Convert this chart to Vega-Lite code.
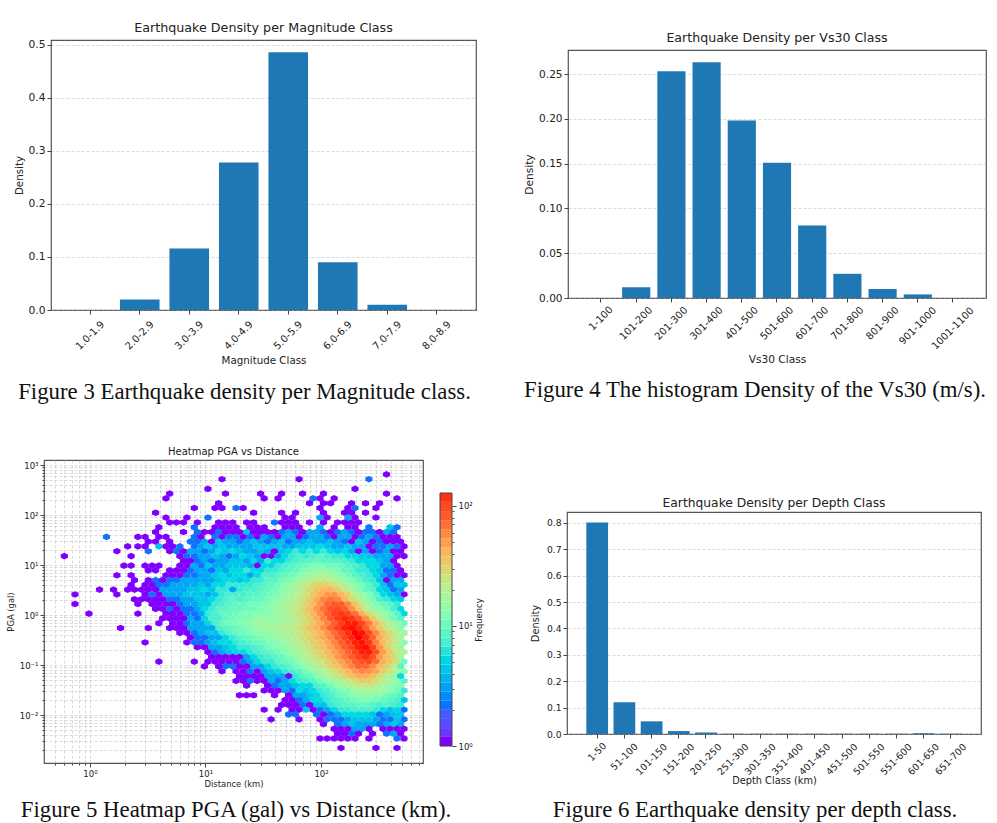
{
"$schema":"https://vega.github.io/schema/vega-lite/v6.json",
"background":"white",
"padding":{"left":5,"top":21,"right":0,"bottom":0},
"config":{"view":{"stroke":null},"font":"DejaVu Sans","axis":{"labelFont":"DejaVu Sans","titleFont":"DejaVu Sans","labelColor":"#222","titleColor":"#222","titleFontWeight":"normal","titleBaseline":"middle","tickColor":"#444","domain":false,"zindex":1,"labelOverlap":false,"labelFlush":false,"gridColor":"#b0b0b0","gridOpacity":0.6,"gridDash":[3,2],"gridWidth":0.8},"title":{"font":"DejaVu Sans","fontWeight":"normal","color":"#222","baseline":"middle"}},
"spacing":40,
"hconcat":[
{"spacing":0,"vconcat":[
 {"bounds":"flush","spacing":0,"hconcat":[
  {"width":7,"height":1,"data":{"values":[]},"mark":"point","encoding":{}},
  {"width":425,"height":270,"view":{"stroke":"#555","strokeWidth":1.2},
   "title":{"text":"Earthquake Density per Magnitude Class","fontSize":12.7,"offset":4},
   "data":{"values":[{"c":"1.0-1.9","v":0},{"c":"2.0-2.9","v":0.02},{"c":"3.0-3.9","v":0.116},{"c":"4.0-4.9","v":0.278},{"c":"5.0-5.9","v":0.486},{"c":"6.0-6.9","v":0.09},{"c":"7.0-7.9","v":0.01},{"c":"8.0-8.9","v":0}]},
   "mark":{"type":"bar","color":"#1f77b4"},
   "encoding":{
    "x":{"field":"c","type":"nominal","sort":null,"scale":{"paddingInner":0.2,"paddingOuter":0.393},"axis":{"title":"Magnitude Class","titleFontSize":10.3,"titleY":50,"labelAngle":-45,"labelAlign":"center","labelBaseline":"middle","labelFontSize":10,"labelPadding":{"expr":"3.5+2.5*length(datum.label)"},"tickSize":4}},
    "y":{"field":"v","type":"quantitative","scale":{"domain":[0,0.509],"nice":false},"axis":{"title":"Density","titleFontSize":10.3,"titleX":-32,"values":[0,0.1,0.2,0.3,0.4,0.5],"format":".1f","labelFontSize":10.7,"tickSize":4,"grid":true}}}}
 ]},
 {"width":401,"height":80,"data":{"values":[{"caption":"Figure 3 Earthquake density per Magnitude class."}]},"mark":{"type":"text","font":"Liberation Serif","fontSize":22.8,"color":"#111","dy":-14.5},"encoding":{"text":{"field":"caption"}}},
 {"bounds":"flush","spacing":0,"hconcat":[
  {"width":379,"height":303,"view":{"stroke":"#555","strokeWidth":1.2},
   "title":{"text":"Heatmap PGA vs Distance","fontSize":10,"offset":3},
   "data":{"values":[
{"d":369,"p":649,"f":1},
{"d":64.6,"p":520,"f":1},{"d":260,"p":520,"f":2},{"d":13.9,"p":520,"f":1},
{"d":10.5,"p":334,"f":1},{"d":197,"p":334,"f":1},
{"d":4.9,"p":268,"f":1},{"d":14.9,"p":268,"f":1},{"d":30,"p":268,"f":1},{"d":45.6,"p":268,"f":1},{"d":69.2,"p":268,"f":1},{"d":105,"p":268,"f":1},{"d":369,"p":268,"f":1},
{"d":4.55,"p":215,"f":1},{"d":32.2,"p":215,"f":1},{"d":42.5,"p":215,"f":1},{"d":85.3,"p":215,"f":2},{"d":98,"p":215,"f":1},{"d":130,"p":215,"f":1},{"d":455,"p":215,"f":1},
{"d":13,"p":172,"f":1},{"d":79.6,"p":172,"f":1},{"d":105,"p":172,"f":1},{"d":121,"p":172,"f":1},{"d":184,"p":172,"f":1},{"d":243,"p":172,"f":1},{"d":321,"p":172,"f":1},
{"d":8,"p":138,"f":1},{"d":12.1,"p":138,"f":1},{"d":13.9,"p":138,"f":1},{"d":18.4,"p":138,"f":2},{"d":21.2,"p":138,"f":1},{"d":98,"p":138,"f":1},{"d":171,"p":138,"f":1},{"d":197,"p":138,"f":2},{"d":299,"p":138,"f":1},
{"d":3.7,"p":111,"f":1},{"d":26.1,"p":111,"f":1},{"d":45.6,"p":111,"f":1},{"d":60.2,"p":111,"f":1},{"d":105,"p":111,"f":1},{"d":160,"p":111,"f":1},{"d":184,"p":111,"f":1},{"d":243,"p":111,"f":1},
{"d":4.55,"p":89,"f":1},{"d":6.9,"p":89,"f":1},{"d":10.5,"p":89,"f":2},{"d":48.9,"p":89,"f":1},{"d":56.2,"p":89,"f":1},{"d":98,"p":89,"f":3},{"d":113,"p":89,"f":1},{"d":171,"p":89,"f":3},{"d":197,"p":89,"f":1},{"d":299,"p":89,"f":1},
{"d":4.9,"p":71,"f":1},{"d":5.6,"p":71,"f":1},{"d":6.45,"p":71,"f":1},{"d":8.5,"p":71,"f":1},{"d":13,"p":71,"f":1},{"d":14.9,"p":71,"f":1},{"d":17.2,"p":71,"f":1},{"d":22.7,"p":71,"f":1},{"d":26.1,"p":71,"f":1},{"d":39.6,"p":71,"f":2},{"d":45.6,"p":71,"f":1},{"d":52.4,"p":71,"f":1},{"d":60.2,"p":71,"f":1},{"d":79.6,"p":71,"f":1},{"d":105,"p":71,"f":1},{"d":139,"p":71,"f":1},{"d":160,"p":71,"f":1},{"d":184,"p":71,"f":1},{"d":211,"p":71,"f":1},
{"d":3.95,"p":57,"f":1},{"d":8,"p":57,"f":2},{"d":12.1,"p":57,"f":1},{"d":13.9,"p":57,"f":1},{"d":16,"p":57,"f":1},{"d":18.4,"p":57,"f":1},{"d":24.3,"p":57,"f":1},{"d":28,"p":57,"f":1},{"d":32.2,"p":57,"f":1},{"d":48.9,"p":57,"f":1},{"d":56.2,"p":57,"f":1},{"d":64.6,"p":57,"f":1},{"d":98,"p":57,"f":3},{"d":130,"p":57,"f":1},{"d":171,"p":57,"f":1},{"d":197,"p":57,"f":1},{"d":260,"p":57,"f":2},{"d":396,"p":57,"f":4},{"d":455,"p":57,"f":2},
{"d":3.7,"p":45.7,"f":1},{"d":6.45,"p":45.7,"f":1},{"d":8.5,"p":45.7,"f":2},{"d":9.8,"p":45.7,"f":1},{"d":11.3,"p":45.7,"f":1},{"d":13,"p":45.7,"f":2},{"d":14.9,"p":45.7,"f":1},{"d":17.2,"p":45.7,"f":1},{"d":19.7,"p":45.7,"f":1},{"d":22.7,"p":45.7,"f":4},{"d":26.1,"p":45.7,"f":1},{"d":30,"p":45.7,"f":1},{"d":34.5,"p":45.7,"f":1},{"d":39.6,"p":45.7,"f":1},{"d":45.6,"p":45.7,"f":2},{"d":52.4,"p":45.7,"f":3},{"d":60.2,"p":45.7,"f":2},{"d":69.2,"p":45.7,"f":1},{"d":79.6,"p":45.7,"f":3},{"d":91.5,"p":45.7,"f":3},{"d":105,"p":45.7,"f":2},{"d":121,"p":45.7,"f":1},{"d":139,"p":45.7,"f":2},{"d":160,"p":45.7,"f":3},{"d":184,"p":45.7,"f":2},{"d":211,"p":45.7,"f":1},{"d":243,"p":45.7,"f":2},{"d":279,"p":45.7,"f":2},{"d":321,"p":45.7,"f":1},{"d":369,"p":45.7,"f":3},{"d":424,"p":45.7,"f":2},
{"d":1.39,"p":36.6,"f":2},{"d":2.6,"p":36.6,"f":1},{"d":3,"p":36.6,"f":1},{"d":3.95,"p":36.6,"f":1},{"d":4.55,"p":36.6,"f":1},{"d":8,"p":36.6,"f":2},{"d":9.15,"p":36.6,"f":1},{"d":12.1,"p":36.6,"f":2},{"d":13.9,"p":36.6,"f":1},{"d":16,"p":36.6,"f":2},{"d":18.4,"p":36.6,"f":2},{"d":21.2,"p":36.6,"f":1},{"d":24.3,"p":36.6,"f":2},{"d":28,"p":36.6,"f":1},{"d":32.2,"p":36.6,"f":3},{"d":37,"p":36.6,"f":2},{"d":42.5,"p":36.6,"f":1},{"d":48.9,"p":36.6,"f":3},{"d":56.2,"p":36.6,"f":3},{"d":64.6,"p":36.6,"f":1},{"d":74.2,"p":36.6,"f":2},{"d":85.3,"p":36.6,"f":3},{"d":98,"p":36.6,"f":3},{"d":113,"p":36.6,"f":2},{"d":130,"p":36.6,"f":1},{"d":149,"p":36.6,"f":3},{"d":171,"p":36.6,"f":3},{"d":197,"p":36.6,"f":1},{"d":226,"p":36.6,"f":2},{"d":260,"p":36.6,"f":3},{"d":299,"p":36.6,"f":2},{"d":344,"p":36.6,"f":1},{"d":396,"p":36.6,"f":1},{"d":455,"p":36.6,"f":1},
{"d":3.2,"p":29.4,"f":1},{"d":3.7,"p":29.4,"f":1},{"d":4.9,"p":29.4,"f":1},{"d":7.4,"p":29.4,"f":2},{"d":8.5,"p":29.4,"f":2},{"d":9.8,"p":29.4,"f":3},{"d":11.3,"p":29.4,"f":1},{"d":13,"p":29.4,"f":4},{"d":14.9,"p":29.4,"f":3},{"d":17.2,"p":29.4,"f":3},{"d":19.7,"p":29.4,"f":2},{"d":22.7,"p":29.4,"f":3},{"d":26.1,"p":29.4,"f":4},{"d":30,"p":29.4,"f":3},{"d":34.5,"p":29.4,"f":2},{"d":39.6,"p":29.4,"f":3},{"d":45.6,"p":29.4,"f":4},{"d":52.4,"p":29.4,"f":2},{"d":60.2,"p":29.4,"f":3},{"d":69.2,"p":29.4,"f":3},{"d":79.6,"p":29.4,"f":4},{"d":91.5,"p":29.4,"f":3},{"d":105,"p":29.4,"f":3},{"d":121,"p":29.4,"f":4},{"d":139,"p":29.4,"f":3},{"d":160,"p":29.4,"f":2},{"d":184,"p":29.4,"f":1},{"d":211,"p":29.4,"f":4},{"d":243,"p":29.4,"f":3},{"d":279,"p":29.4,"f":1},{"d":321,"p":29.4,"f":2},{"d":369,"p":29.4,"f":1},{"d":424,"p":29.4,"f":1},{"d":488,"p":29.4,"f":1},
{"d":2.12,"p":23.6,"f":1},{"d":2.6,"p":23.6,"f":1},{"d":3,"p":23.6,"f":1},{"d":3.95,"p":23.6,"f":4},{"d":4.55,"p":23.6,"f":1},{"d":5.2,"p":23.6,"f":1},{"d":6,"p":23.6,"f":2},{"d":8,"p":23.6,"f":2},{"d":9.15,"p":23.6,"f":3},{"d":10.5,"p":23.6,"f":4},{"d":12.1,"p":23.6,"f":3},{"d":13.9,"p":23.6,"f":4},{"d":16,"p":23.6,"f":3},{"d":18.4,"p":23.6,"f":3},{"d":21.2,"p":23.6,"f":3},{"d":24.3,"p":23.6,"f":3},{"d":28,"p":23.6,"f":4},{"d":32.2,"p":23.6,"f":4},{"d":37,"p":23.6,"f":4},{"d":42.5,"p":23.6,"f":4},{"d":48.9,"p":23.6,"f":3},{"d":56.2,"p":23.6,"f":3},{"d":64.6,"p":23.6,"f":4},{"d":74.2,"p":23.6,"f":4},{"d":85.3,"p":23.6,"f":4},{"d":98,"p":23.6,"f":5},{"d":113,"p":23.6,"f":4},{"d":130,"p":23.6,"f":3},{"d":149,"p":23.6,"f":3},{"d":171,"p":23.6,"f":4},{"d":197,"p":23.6,"f":3},{"d":226,"p":23.6,"f":3},{"d":260,"p":23.6,"f":1},{"d":299,"p":23.6,"f":2},{"d":344,"p":23.6,"f":2},{"d":396,"p":23.6,"f":3},{"d":455,"p":23.6,"f":2},{"d":523,"p":23.6,"f":1},
{"d":1.71,"p":18.9,"f":1},{"d":3.2,"p":18.9,"f":2},{"d":4.9,"p":18.9,"f":1},{"d":5.6,"p":18.9,"f":2},{"d":6.45,"p":18.9,"f":1},{"d":7.4,"p":18.9,"f":3},{"d":8.5,"p":18.9,"f":3},{"d":9.8,"p":18.9,"f":2},{"d":11.3,"p":18.9,"f":3},{"d":13,"p":18.9,"f":5},{"d":14.9,"p":18.9,"f":4},{"d":17.2,"p":18.9,"f":5},{"d":19.7,"p":18.9,"f":4},{"d":22.7,"p":18.9,"f":3},{"d":26.1,"p":18.9,"f":3},{"d":30,"p":18.9,"f":4},{"d":34.5,"p":18.9,"f":3},{"d":39.6,"p":18.9,"f":1},{"d":45.6,"p":18.9,"f":4},{"d":52.4,"p":18.9,"f":5},{"d":60.2,"p":18.9,"f":6},{"d":69.2,"p":18.9,"f":5},{"d":79.6,"p":18.9,"f":6},{"d":91.5,"p":18.9,"f":5},{"d":105,"p":18.9,"f":6},{"d":121,"p":18.9,"f":5},{"d":139,"p":18.9,"f":4},{"d":160,"p":18.9,"f":5},{"d":184,"p":18.9,"f":3},{"d":211,"p":18.9,"f":1},{"d":243,"p":18.9,"f":3},{"d":279,"p":18.9,"f":1},{"d":321,"p":18.9,"f":2},{"d":369,"p":18.9,"f":3},{"d":424,"p":18.9,"f":1},{"d":488,"p":18.9,"f":1},
{"d":0.6,"p":15.1,"f":1},{"d":2.27,"p":15.1,"f":1},{"d":6,"p":15.1,"f":1},{"d":6.9,"p":15.1,"f":2},{"d":8,"p":15.1,"f":2},{"d":9.15,"p":15.1,"f":3},{"d":10.5,"p":15.1,"f":3},{"d":12.1,"p":15.1,"f":4},{"d":13.9,"p":15.1,"f":3},{"d":16,"p":15.1,"f":2},{"d":18.4,"p":15.1,"f":3},{"d":21.2,"p":15.1,"f":5},{"d":24.3,"p":15.1,"f":4},{"d":28,"p":15.1,"f":3},{"d":32.2,"p":15.1,"f":1},{"d":37,"p":15.1,"f":1},{"d":42.5,"p":15.1,"f":3},{"d":48.9,"p":15.1,"f":5},{"d":56.2,"p":15.1,"f":6},{"d":64.6,"p":15.1,"f":7},{"d":74.2,"p":15.1,"f":6},{"d":85.3,"p":15.1,"f":7},{"d":98,"p":15.1,"f":8},{"d":113,"p":15.1,"f":7},{"d":130,"p":15.1,"f":6},{"d":149,"p":15.1,"f":6},{"d":171,"p":15.1,"f":5},{"d":197,"p":15.1,"f":5},{"d":226,"p":15.1,"f":4},{"d":260,"p":15.1,"f":4},{"d":299,"p":15.1,"f":3},{"d":344,"p":15.1,"f":3},{"d":396,"p":15.1,"f":3},{"d":455,"p":15.1,"f":1},{"d":523,"p":15.1,"f":1},
{"d":424,"p":12.1,"f":1},{"d":369,"p":12.1,"f":3},{"d":321,"p":12.1,"f":4},{"d":279,"p":12.1,"f":5},{"d":243,"p":12.1,"f":5},{"d":211,"p":12.1,"f":5},{"d":184,"p":12.1,"f":6},{"d":160,"p":12.1,"f":7},{"d":139,"p":12.1,"f":8},{"d":121,"p":12.1,"f":8},{"d":105,"p":12.1,"f":8},{"d":91.5,"p":12.1,"f":9},{"d":79.6,"p":12.1,"f":8},{"d":69.2,"p":12.1,"f":8},{"d":60.2,"p":12.1,"f":7},{"d":52.4,"p":12.1,"f":6},{"d":45.6,"p":12.1,"f":5},{"d":39.6,"p":12.1,"f":5},{"d":34.5,"p":12.1,"f":6},{"d":30,"p":12.1,"f":3},{"d":26.1,"p":12.1,"f":5},{"d":22.7,"p":12.1,"f":3},{"d":19.7,"p":12.1,"f":4},{"d":17.2,"p":12.1,"f":4},{"d":14.9,"p":12.1,"f":3},{"d":13,"p":12.1,"f":3},{"d":11.3,"p":12.1,"f":2},{"d":9.8,"p":12.1,"f":3},{"d":8.5,"p":12.1,"f":2},{"d":7.4,"p":12.1,"f":1},{"d":6.45,"p":12.1,"f":1},
{"d":455,"p":9.7,"f":1},{"d":396,"p":9.7,"f":3},{"d":344,"p":9.7,"f":3},{"d":299,"p":9.7,"f":5},{"d":260,"p":9.7,"f":5},{"d":226,"p":9.7,"f":6},{"d":197,"p":9.7,"f":7},{"d":171,"p":9.7,"f":8},{"d":149,"p":9.7,"f":9},{"d":130,"p":9.7,"f":10},{"d":113,"p":9.7,"f":10},{"d":98,"p":9.7,"f":11},{"d":85.3,"p":9.7,"f":11},{"d":74.2,"p":9.7,"f":10},{"d":64.6,"p":9.7,"f":9},{"d":56.2,"p":9.7,"f":8},{"d":48.9,"p":9.7,"f":7},{"d":42.5,"p":9.7,"f":6},{"d":37,"p":9.7,"f":5},{"d":32.2,"p":9.7,"f":5},{"d":28,"p":9.7,"f":1},{"d":24.3,"p":9.7,"f":3},{"d":21.2,"p":9.7,"f":4},{"d":18.4,"p":9.7,"f":4},{"d":16,"p":9.7,"f":4},{"d":13.9,"p":9.7,"f":3},{"d":12.1,"p":9.7,"f":3},{"d":10.5,"p":9.7,"f":4},{"d":9.15,"p":9.7,"f":2},{"d":8,"p":9.7,"f":3},{"d":6.9,"p":9.7,"f":1},{"d":6,"p":9.7,"f":1},{"d":3.95,"p":9.7,"f":1},{"d":3.45,"p":9.7,"f":1},{"d":3,"p":9.7,"f":1},{"d":2.27,"p":9.7,"f":1},{"d":1.97,"p":9.7,"f":1},
{"d":488,"p":7.8,"f":1},{"d":424,"p":7.8,"f":2},{"d":369,"p":7.8,"f":2},{"d":321,"p":7.8,"f":4},{"d":279,"p":7.8,"f":5},{"d":243,"p":7.8,"f":6},{"d":211,"p":7.8,"f":6},{"d":184,"p":7.8,"f":8},{"d":160,"p":7.8,"f":9},{"d":139,"p":7.8,"f":11},{"d":121,"p":7.8,"f":12},{"d":105,"p":7.8,"f":14},{"d":91.5,"p":7.8,"f":13},{"d":79.6,"p":7.8,"f":12},{"d":69.2,"p":7.8,"f":11},{"d":60.2,"p":7.8,"f":9},{"d":52.4,"p":7.8,"f":8},{"d":45.6,"p":7.8,"f":7},{"d":39.6,"p":7.8,"f":6},{"d":34.5,"p":7.8,"f":6},{"d":30,"p":7.8,"f":5},{"d":26.1,"p":7.8,"f":5},{"d":22.7,"p":7.8,"f":6},{"d":19.7,"p":7.8,"f":5},{"d":17.2,"p":7.8,"f":5},{"d":14.9,"p":7.8,"f":3},{"d":13,"p":7.8,"f":4},{"d":11.3,"p":7.8,"f":2},{"d":9.8,"p":7.8,"f":3},{"d":8.5,"p":7.8,"f":3},{"d":7.4,"p":7.8,"f":2},{"d":6.45,"p":7.8,"f":1},{"d":5.6,"p":7.8,"f":1},{"d":4.9,"p":7.8,"f":1},{"d":3.7,"p":7.8,"f":1},{"d":3.2,"p":7.8,"f":1},
{"d":523,"p":6.25,"f":1},{"d":455,"p":6.25,"f":1},{"d":396,"p":6.25,"f":2},{"d":344,"p":6.25,"f":3},{"d":299,"p":6.25,"f":5},{"d":260,"p":6.25,"f":6},{"d":226,"p":6.25,"f":7},{"d":197,"p":6.25,"f":8},{"d":171,"p":6.25,"f":10},{"d":149,"p":6.25,"f":12},{"d":130,"p":6.25,"f":14},{"d":113,"p":6.25,"f":16},{"d":98,"p":6.25,"f":17},{"d":85.3,"p":6.25,"f":16},{"d":74.2,"p":6.25,"f":14},{"d":64.6,"p":6.25,"f":12},{"d":56.2,"p":6.25,"f":10},{"d":48.9,"p":6.25,"f":9},{"d":42.5,"p":6.25,"f":8},{"d":37,"p":6.25,"f":7},{"d":32.2,"p":6.25,"f":7},{"d":28,"p":6.25,"f":5},{"d":24.3,"p":6.25,"f":3},{"d":21.2,"p":6.25,"f":5},{"d":18.4,"p":6.25,"f":5},{"d":16,"p":6.25,"f":4},{"d":13.9,"p":6.25,"f":5},{"d":12.1,"p":6.25,"f":4},{"d":10.5,"p":6.25,"f":3},{"d":9.15,"p":6.25,"f":3},{"d":8,"p":6.25,"f":2},{"d":6.9,"p":6.25,"f":2},{"d":6,"p":6.25,"f":1},{"d":5.2,"p":6.25,"f":1},{"d":4.55,"p":6.25,"f":1},{"d":2.27,"p":6.25,"f":1},{"d":1.71,"p":6.25,"f":1},
{"d":488,"p":5,"f":3},{"d":424,"p":5,"f":3},{"d":369,"p":5,"f":1},{"d":321,"p":5,"f":4},{"d":279,"p":5,"f":6},{"d":243,"p":5,"f":7},{"d":211,"p":5,"f":9},{"d":184,"p":5,"f":11},{"d":160,"p":5,"f":13},{"d":139,"p":5,"f":16},{"d":121,"p":5,"f":20},{"d":105,"p":5,"f":22},{"d":91.5,"p":5,"f":20},{"d":79.6,"p":5,"f":18},{"d":69.2,"p":5,"f":15},{"d":60.2,"p":5,"f":13},{"d":52.4,"p":5,"f":11},{"d":45.6,"p":5,"f":10},{"d":39.6,"p":5,"f":8},{"d":34.5,"p":5,"f":8},{"d":30,"p":5,"f":6},{"d":26.1,"p":5,"f":6},{"d":22.7,"p":5,"f":5},{"d":19.7,"p":5,"f":4},{"d":17.2,"p":5,"f":5},{"d":14.9,"p":5,"f":5},{"d":13,"p":5,"f":4},{"d":11.3,"p":5,"f":3},{"d":9.8,"p":5,"f":3},{"d":8.5,"p":5,"f":3},{"d":7.4,"p":5,"f":3},{"d":6.45,"p":5,"f":3},{"d":5.6,"p":5,"f":2},{"d":4.9,"p":5,"f":2},{"d":4.25,"p":5,"f":1},{"d":3.7,"p":5,"f":2},{"d":3.2,"p":5,"f":1},{"d":2.43,"p":5,"f":1},
{"d":523,"p":4.02,"f":4},{"d":455,"p":4.02,"f":4},{"d":396,"p":4.02,"f":2},{"d":344,"p":4.02,"f":4},{"d":299,"p":4.02,"f":6},{"d":260,"p":4.02,"f":8},{"d":226,"p":4.02,"f":10},{"d":197,"p":4.02,"f":13},{"d":171,"p":4.02,"f":15},{"d":149,"p":4.02,"f":20},{"d":130,"p":4.02,"f":24},{"d":113,"p":4.02,"f":28},{"d":98,"p":4.02,"f":30},{"d":85.3,"p":4.02,"f":26},{"d":74.2,"p":4.02,"f":22},{"d":64.6,"p":4.02,"f":18},{"d":56.2,"p":4.02,"f":14},{"d":48.9,"p":4.02,"f":12},{"d":42.5,"p":4.02,"f":10},{"d":37,"p":4.02,"f":9},{"d":32.2,"p":4.02,"f":8},{"d":28,"p":4.02,"f":7},{"d":24.3,"p":4.02,"f":6},{"d":21.2,"p":4.02,"f":6},{"d":18.4,"p":4.02,"f":6},{"d":16,"p":4.02,"f":6},{"d":13.9,"p":4.02,"f":5},{"d":12.1,"p":4.02,"f":5},{"d":10.5,"p":4.02,"f":3},{"d":9.15,"p":4.02,"f":4},{"d":8,"p":4.02,"f":3},{"d":6.9,"p":4.02,"f":3},{"d":6,"p":4.02,"f":3},{"d":5.2,"p":4.02,"f":3},{"d":4.55,"p":4.02,"f":2},{"d":3.95,"p":4.02,"f":2},{"d":3.45,"p":4.02,"f":1},{"d":3,"p":4.02,"f":1},{"d":2.27,"p":4.02,"f":1},
{"d":488,"p":3.22,"f":3},{"d":424,"p":3.22,"f":2},{"d":369,"p":3.22,"f":4},{"d":321,"p":3.22,"f":5},{"d":279,"p":3.22,"f":8},{"d":243,"p":3.22,"f":9},{"d":211,"p":3.22,"f":12},{"d":184,"p":3.22,"f":16},{"d":160,"p":3.22,"f":22},{"d":139,"p":3.22,"f":30},{"d":121,"p":3.22,"f":38},{"d":105,"p":3.22,"f":38},{"d":91.5,"p":3.22,"f":32},{"d":79.6,"p":3.22,"f":26},{"d":69.2,"p":3.22,"f":20},{"d":60.2,"p":3.22,"f":17},{"d":52.4,"p":3.22,"f":14},{"d":45.6,"p":3.22,"f":12},{"d":39.6,"p":3.22,"f":10},{"d":34.5,"p":3.22,"f":9},{"d":30,"p":3.22,"f":8},{"d":26.1,"p":3.22,"f":7},{"d":22.7,"p":3.22,"f":7},{"d":19.7,"p":3.22,"f":6},{"d":17.2,"p":3.22,"f":3},{"d":14.9,"p":3.22,"f":6},{"d":13,"p":3.22,"f":6},{"d":11.3,"p":3.22,"f":4},{"d":9.8,"p":3.22,"f":5},{"d":8.5,"p":3.22,"f":4},{"d":7.4,"p":3.22,"f":4},{"d":6.45,"p":3.22,"f":3},{"d":5.6,"p":3.22,"f":3},{"d":4.9,"p":3.22,"f":3},{"d":4.25,"p":3.22,"f":3},{"d":3.7,"p":3.22,"f":1},{"d":3.2,"p":3.22,"f":1},{"d":2.8,"p":3.22,"f":1},{"d":2.43,"p":3.22,"f":1},{"d":2.12,"p":3.22,"f":1},{"d":1.6,"p":3.22,"f":1},{"d":1.21,"p":3.22,"f":1},
{"d":523,"p":2.58,"f":1},{"d":455,"p":2.58,"f":3},{"d":396,"p":2.58,"f":4},{"d":344,"p":2.58,"f":5},{"d":299,"p":2.58,"f":8},{"d":260,"p":2.58,"f":11},{"d":226,"p":2.58,"f":14},{"d":197,"p":2.58,"f":20},{"d":171,"p":2.58,"f":28},{"d":149,"p":2.58,"f":38},{"d":130,"p":2.58,"f":50},{"d":113,"p":2.58,"f":48},{"d":98,"p":2.58,"f":40},{"d":85.3,"p":2.58,"f":32},{"d":74.2,"p":2.58,"f":24},{"d":64.6,"p":2.58,"f":20},{"d":56.2,"p":2.58,"f":16},{"d":48.9,"p":2.58,"f":14},{"d":42.5,"p":2.58,"f":11},{"d":37,"p":2.58,"f":10},{"d":32.2,"p":2.58,"f":9},{"d":28,"p":2.58,"f":8},{"d":24.3,"p":2.58,"f":8},{"d":21.2,"p":2.58,"f":7},{"d":18.4,"p":2.58,"f":7},{"d":16,"p":2.58,"f":7},{"d":13.9,"p":2.58,"f":6},{"d":12.1,"p":2.58,"f":4},{"d":10.5,"p":2.58,"f":3},{"d":9.15,"p":2.58,"f":4},{"d":8,"p":2.58,"f":4},{"d":6.9,"p":2.58,"f":4},{"d":6,"p":2.58,"f":3},{"d":5.2,"p":2.58,"f":3},{"d":4.55,"p":2.58,"f":3},{"d":3.95,"p":2.58,"f":1},{"d":3.45,"p":2.58,"f":2},{"d":3,"p":2.58,"f":1},{"d":1.71,"p":2.58,"f":1},{"d":0.742,"p":2.58,"f":1},
{"d":488,"p":2.07,"f":4},{"d":424,"p":2.07,"f":5},{"d":369,"p":2.07,"f":6},{"d":321,"p":2.07,"f":7},{"d":279,"p":2.07,"f":10},{"d":243,"p":2.07,"f":13},{"d":211,"p":2.07,"f":18},{"d":184,"p":2.07,"f":26},{"d":160,"p":2.07,"f":38},{"d":139,"p":2.07,"f":55},{"d":121,"p":2.07,"f":62},{"d":105,"p":2.07,"f":55},{"d":91.5,"p":2.07,"f":42},{"d":79.6,"p":2.07,"f":30},{"d":69.2,"p":2.07,"f":24},{"d":60.2,"p":2.07,"f":19},{"d":52.4,"p":2.07,"f":16},{"d":45.6,"p":2.07,"f":14},{"d":39.6,"p":2.07,"f":12},{"d":34.5,"p":2.07,"f":10},{"d":30,"p":2.07,"f":9},{"d":26.1,"p":2.07,"f":9},{"d":22.7,"p":2.07,"f":8},{"d":19.7,"p":2.07,"f":7},{"d":17.2,"p":2.07,"f":8},{"d":14.9,"p":2.07,"f":7},{"d":13,"p":2.07,"f":6},{"d":11.3,"p":2.07,"f":5},{"d":9.8,"p":2.07,"f":4},{"d":8.5,"p":2.07,"f":4},{"d":7.4,"p":2.07,"f":3},{"d":6.45,"p":2.07,"f":3},{"d":5.6,"p":2.07,"f":2},{"d":4.9,"p":2.07,"f":2},{"d":4.25,"p":2.07,"f":1},{"d":3.7,"p":2.07,"f":1},{"d":3.2,"p":2.07,"f":1},{"d":2.8,"p":2.07,"f":1},{"d":2.43,"p":2.07,"f":1},
{"d":455,"p":1.66,"f":6},{"d":396,"p":1.66,"f":8},{"d":344,"p":1.66,"f":9},{"d":299,"p":1.66,"f":11},{"d":260,"p":1.66,"f":15},{"d":226,"p":1.66,"f":22},{"d":197,"p":1.66,"f":34},{"d":171,"p":1.66,"f":55},{"d":149,"p":1.66,"f":75},{"d":130,"p":1.66,"f":80},{"d":113,"p":1.66,"f":68},{"d":98,"p":1.66,"f":50},{"d":85.3,"p":1.66,"f":36},{"d":74.2,"p":1.66,"f":28},{"d":64.6,"p":1.66,"f":22},{"d":56.2,"p":1.66,"f":18},{"d":48.9,"p":1.66,"f":16},{"d":42.5,"p":1.66,"f":14},{"d":37,"p":1.66,"f":12},{"d":32.2,"p":1.66,"f":11},{"d":28,"p":1.66,"f":10},{"d":24.3,"p":1.66,"f":10},{"d":21.2,"p":1.66,"f":9},{"d":18.4,"p":1.66,"f":9},{"d":16,"p":1.66,"f":8},{"d":13.9,"p":1.66,"f":7},{"d":12.1,"p":1.66,"f":6},{"d":10.5,"p":1.66,"f":4},{"d":9.15,"p":1.66,"f":4},{"d":8,"p":1.66,"f":3},{"d":6.9,"p":1.66,"f":3},{"d":6,"p":1.66,"f":2},{"d":5.2,"p":1.66,"f":1},{"d":4.55,"p":1.66,"f":1},{"d":3.95,"p":1.66,"f":1},{"d":3.45,"p":1.66,"f":1},{"d":2.6,"p":1.66,"f":1},{"d":0.742,"p":1.66,"f":1},
{"d":488,"p":1.33,"f":5},{"d":424,"p":1.33,"f":7},{"d":369,"p":1.33,"f":10},{"d":321,"p":1.33,"f":12},{"d":279,"p":1.33,"f":14},{"d":243,"p":1.33,"f":20},{"d":211,"p":1.33,"f":30},{"d":184,"p":1.33,"f":50},{"d":160,"p":1.33,"f":75},{"d":139,"p":1.33,"f":90},{"d":121,"p":1.33,"f":85},{"d":105,"p":1.33,"f":65},{"d":91.5,"p":1.33,"f":48},{"d":79.6,"p":1.33,"f":34},{"d":69.2,"p":1.33,"f":26},{"d":60.2,"p":1.33,"f":22},{"d":52.4,"p":1.33,"f":18},{"d":45.6,"p":1.33,"f":15},{"d":39.6,"p":1.33,"f":13},{"d":34.5,"p":1.33,"f":12},{"d":30,"p":1.33,"f":11},{"d":26.1,"p":1.33,"f":10},{"d":22.7,"p":1.33,"f":10},{"d":19.7,"p":1.33,"f":9},{"d":17.2,"p":1.33,"f":9},{"d":14.9,"p":1.33,"f":8},{"d":13,"p":1.33,"f":8},{"d":11.3,"p":1.33,"f":6},{"d":9.8,"p":1.33,"f":5},{"d":8.5,"p":1.33,"f":3},{"d":7.4,"p":1.33,"f":2},{"d":6.45,"p":1.33,"f":2},{"d":5.6,"p":1.33,"f":1},{"d":4.9,"p":1.33,"f":2},{"d":4.25,"p":1.33,"f":1},{"d":3.7,"p":1.33,"f":1},
{"d":523,"p":1.07,"f":5},{"d":455,"p":1.07,"f":8},{"d":396,"p":1.07,"f":11},{"d":344,"p":1.07,"f":14},{"d":299,"p":1.07,"f":18},{"d":260,"p":1.07,"f":26},{"d":226,"p":1.07,"f":40},{"d":197,"p":1.07,"f":65},{"d":171,"p":1.07,"f":90},{"d":149,"p":1.07,"f":105},{"d":130,"p":1.07,"f":95},{"d":113,"p":1.07,"f":72},{"d":98,"p":1.07,"f":52},{"d":85.3,"p":1.07,"f":38},{"d":74.2,"p":1.07,"f":28},{"d":64.6,"p":1.07,"f":24},{"d":56.2,"p":1.07,"f":19},{"d":48.9,"p":1.07,"f":16},{"d":42.5,"p":1.07,"f":14},{"d":37,"p":1.07,"f":13},{"d":32.2,"p":1.07,"f":12},{"d":28,"p":1.07,"f":12},{"d":24.3,"p":1.07,"f":11},{"d":21.2,"p":1.07,"f":11},{"d":18.4,"p":1.07,"f":10},{"d":16,"p":1.07,"f":9},{"d":13.9,"p":1.07,"f":9},{"d":12.1,"p":1.07,"f":7},{"d":10.5,"p":1.07,"f":6},{"d":9.15,"p":1.07,"f":3},{"d":8,"p":1.07,"f":2},{"d":6.9,"p":1.07,"f":2},{"d":6,"p":1.07,"f":1},{"d":5.2,"p":1.07,"f":1},{"d":4.55,"p":1.07,"f":1},{"d":2.6,"p":1.07,"f":1},{"d":0.98,"p":1.07,"f":1},
{"d":488,"p":0.855,"f":8},{"d":424,"p":0.855,"f":10},{"d":369,"p":0.855,"f":14},{"d":321,"p":0.855,"f":20},{"d":279,"p":0.855,"f":30},{"d":243,"p":0.855,"f":50},{"d":211,"p":0.855,"f":80},{"d":184,"p":0.855,"f":105},{"d":160,"p":0.855,"f":115},{"d":139,"p":0.855,"f":100},{"d":121,"p":0.855,"f":78},{"d":105,"p":0.855,"f":55},{"d":91.5,"p":0.855,"f":40},{"d":79.6,"p":0.855,"f":30},{"d":69.2,"p":0.855,"f":24},{"d":60.2,"p":0.855,"f":20},{"d":52.4,"p":0.855,"f":17},{"d":45.6,"p":0.855,"f":15},{"d":39.6,"p":0.855,"f":13},{"d":34.5,"p":0.855,"f":13},{"d":30,"p":0.855,"f":14},{"d":26.1,"p":0.855,"f":13},{"d":22.7,"p":0.855,"f":11},{"d":19.7,"p":0.855,"f":11},{"d":17.2,"p":0.855,"f":10},{"d":14.9,"p":0.855,"f":9},{"d":13,"p":0.855,"f":7},{"d":11.3,"p":0.855,"f":7},{"d":9.8,"p":0.855,"f":5},{"d":8.5,"p":0.855,"f":2},{"d":7.4,"p":0.855,"f":3},{"d":6.45,"p":0.855,"f":1},{"d":5.6,"p":0.855,"f":1},{"d":4.9,"p":0.855,"f":1},{"d":4.25,"p":0.855,"f":1},
{"d":523,"p":0.685,"f":10},{"d":455,"p":0.685,"f":13},{"d":396,"p":0.685,"f":18},{"d":344,"p":0.685,"f":24},{"d":299,"p":0.685,"f":38},{"d":260,"p":0.685,"f":60},{"d":226,"p":0.685,"f":95},{"d":197,"p":0.685,"f":120},{"d":171,"p":0.685,"f":118},{"d":149,"p":0.685,"f":100},{"d":130,"p":0.685,"f":75},{"d":113,"p":0.685,"f":55},{"d":98,"p":0.685,"f":42},{"d":85.3,"p":0.685,"f":32},{"d":74.2,"p":0.685,"f":26},{"d":64.6,"p":0.685,"f":22},{"d":56.2,"p":0.685,"f":18},{"d":48.9,"p":0.685,"f":16},{"d":42.5,"p":0.685,"f":15},{"d":37,"p":0.685,"f":14},{"d":32.2,"p":0.685,"f":15},{"d":28,"p":0.685,"f":14},{"d":24.3,"p":0.685,"f":13},{"d":21.2,"p":0.685,"f":12},{"d":18.4,"p":0.685,"f":11},{"d":16,"p":0.685,"f":10},{"d":13.9,"p":0.685,"f":9},{"d":12.1,"p":0.685,"f":7},{"d":10.5,"p":0.685,"f":5},{"d":9.15,"p":0.685,"f":3},{"d":8,"p":0.685,"f":3},{"d":6.9,"p":0.685,"f":2},{"d":6,"p":0.685,"f":1},{"d":5.2,"p":0.685,"f":1},{"d":3.95,"p":0.685,"f":1},
{"d":488,"p":0.55,"f":12},{"d":424,"p":0.55,"f":16},{"d":369,"p":0.55,"f":22},{"d":321,"p":0.55,"f":30},{"d":279,"p":0.55,"f":45},{"d":243,"p":0.55,"f":75},{"d":211,"p":0.55,"f":110},{"d":184,"p":0.55,"f":125},{"d":160,"p":0.55,"f":118},{"d":139,"p":0.55,"f":95},{"d":121,"p":0.55,"f":72},{"d":105,"p":0.55,"f":52},{"d":91.5,"p":0.55,"f":40},{"d":79.6,"p":0.55,"f":32},{"d":69.2,"p":0.55,"f":26},{"d":60.2,"p":0.55,"f":22},{"d":52.4,"p":0.55,"f":19},{"d":45.6,"p":0.55,"f":17},{"d":39.6,"p":0.55,"f":16},{"d":34.5,"p":0.55,"f":15},{"d":30,"p":0.55,"f":14},{"d":26.1,"p":0.55,"f":13},{"d":22.7,"p":0.55,"f":11},{"d":19.7,"p":0.55,"f":10},{"d":17.2,"p":0.55,"f":9},{"d":14.9,"p":0.55,"f":8},{"d":13,"p":0.55,"f":7},{"d":11.3,"p":0.55,"f":3},{"d":9.8,"p":0.55,"f":3},{"d":8.5,"p":0.55,"f":3},{"d":7.4,"p":0.55,"f":3},{"d":6.45,"p":0.55,"f":1},{"d":5.6,"p":0.55,"f":1},{"d":4.9,"p":0.55,"f":1},{"d":3.2,"p":0.55,"f":1},{"d":1.84,"p":0.55,"f":1},
{"d":523,"p":0.44,"f":14},{"d":455,"p":0.44,"f":18},{"d":396,"p":0.44,"f":26},{"d":344,"p":0.44,"f":36},{"d":299,"p":0.44,"f":55},{"d":260,"p":0.44,"f":90},{"d":226,"p":0.44,"f":124},{"d":197,"p":0.44,"f":128},{"d":171,"p":0.44,"f":110},{"d":149,"p":0.44,"f":88},{"d":130,"p":0.44,"f":66},{"d":113,"p":0.44,"f":50},{"d":98,"p":0.44,"f":38},{"d":85.3,"p":0.44,"f":30},{"d":74.2,"p":0.44,"f":26},{"d":64.6,"p":0.44,"f":21},{"d":56.2,"p":0.44,"f":19},{"d":48.9,"p":0.44,"f":17},{"d":42.5,"p":0.44,"f":15},{"d":37,"p":0.44,"f":14},{"d":32.2,"p":0.44,"f":13},{"d":28,"p":0.44,"f":12},{"d":24.3,"p":0.44,"f":11},{"d":21.2,"p":0.44,"f":10},{"d":18.4,"p":0.44,"f":9},{"d":16,"p":0.44,"f":8},{"d":13.9,"p":0.44,"f":6},{"d":12.1,"p":0.44,"f":4},{"d":10.5,"p":0.44,"f":4},{"d":9.15,"p":0.44,"f":3},{"d":8,"p":0.44,"f":2},{"d":6.9,"p":0.44,"f":1},{"d":6,"p":0.44,"f":1},
{"d":488,"p":0.353,"f":16},{"d":424,"p":0.353,"f":22},{"d":369,"p":0.353,"f":30},{"d":321,"p":0.353,"f":42},{"d":279,"p":0.353,"f":70},{"d":243,"p":0.353,"f":110},{"d":211,"p":0.353,"f":128},{"d":184,"p":0.353,"f":115},{"d":160,"p":0.353,"f":92},{"d":139,"p":0.353,"f":70},{"d":121,"p":0.353,"f":52},{"d":105,"p":0.353,"f":42},{"d":91.5,"p":0.353,"f":34},{"d":79.6,"p":0.353,"f":28},{"d":69.2,"p":0.353,"f":24},{"d":60.2,"p":0.353,"f":20},{"d":52.4,"p":0.353,"f":17},{"d":45.6,"p":0.353,"f":15},{"d":39.6,"p":0.353,"f":13},{"d":34.5,"p":0.353,"f":12},{"d":30,"p":0.353,"f":11},{"d":26.1,"p":0.353,"f":10},{"d":22.7,"p":0.353,"f":9},{"d":19.7,"p":0.353,"f":8},{"d":17.2,"p":0.353,"f":6},{"d":14.9,"p":0.353,"f":5},{"d":13,"p":0.353,"f":3},{"d":11.3,"p":0.353,"f":3},{"d":9.8,"p":0.353,"f":2},{"d":8.5,"p":0.353,"f":2},{"d":7.4,"p":0.353,"f":1},
{"d":523,"p":0.283,"f":12},{"d":455,"p":0.283,"f":20},{"d":396,"p":0.283,"f":26},{"d":344,"p":0.283,"f":36},{"d":299,"p":0.283,"f":58},{"d":260,"p":0.283,"f":105},{"d":226,"p":0.283,"f":125},{"d":197,"p":0.283,"f":118},{"d":171,"p":0.283,"f":95},{"d":149,"p":0.283,"f":72},{"d":130,"p":0.283,"f":55},{"d":113,"p":0.283,"f":42},{"d":98,"p":0.283,"f":34},{"d":85.3,"p":0.283,"f":28},{"d":74.2,"p":0.283,"f":24},{"d":64.6,"p":0.283,"f":20},{"d":56.2,"p":0.283,"f":17},{"d":48.9,"p":0.283,"f":14},{"d":42.5,"p":0.283,"f":12},{"d":37,"p":0.283,"f":11},{"d":32.2,"p":0.283,"f":10},{"d":28,"p":0.283,"f":9},{"d":24.3,"p":0.283,"f":8},{"d":21.2,"p":0.283,"f":7},{"d":18.4,"p":0.283,"f":6},{"d":16,"p":0.283,"f":5},{"d":13.9,"p":0.283,"f":5},{"d":12.1,"p":0.283,"f":4},{"d":10.5,"p":0.283,"f":3},{"d":9.15,"p":0.283,"f":2},{"d":8,"p":0.283,"f":2},{"d":6.9,"p":0.283,"f":1},{"d":3,"p":0.283,"f":1},
{"d":488,"p":0.227,"f":14},{"d":424,"p":0.227,"f":20},{"d":369,"p":0.227,"f":30},{"d":321,"p":0.227,"f":50},{"d":279,"p":0.227,"f":95},{"d":243,"p":0.227,"f":125},{"d":211,"p":0.227,"f":120},{"d":184,"p":0.227,"f":92},{"d":160,"p":0.227,"f":74},{"d":139,"p":0.227,"f":56},{"d":121,"p":0.227,"f":44},{"d":105,"p":0.227,"f":35},{"d":91.5,"p":0.227,"f":30},{"d":79.6,"p":0.227,"f":24},{"d":69.2,"p":0.227,"f":20},{"d":60.2,"p":0.227,"f":17},{"d":52.4,"p":0.227,"f":14},{"d":45.6,"p":0.227,"f":12},{"d":39.6,"p":0.227,"f":11},{"d":34.5,"p":0.227,"f":10},{"d":30,"p":0.227,"f":8},{"d":26.1,"p":0.227,"f":7},{"d":22.7,"p":0.227,"f":6},{"d":19.7,"p":0.227,"f":6},{"d":17.2,"p":0.227,"f":5},{"d":14.9,"p":0.227,"f":4},{"d":13,"p":0.227,"f":3},{"d":11.3,"p":0.227,"f":3},{"d":9.8,"p":0.227,"f":1},{"d":8.5,"p":0.227,"f":1},
{"d":523,"p":0.182,"f":18},{"d":455,"p":0.182,"f":22},{"d":396,"p":0.182,"f":30},{"d":344,"p":0.182,"f":46},{"d":299,"p":0.182,"f":85},{"d":260,"p":0.182,"f":120},{"d":226,"p":0.182,"f":118},{"d":197,"p":0.182,"f":95},{"d":171,"p":0.182,"f":72},{"d":149,"p":0.182,"f":55},{"d":130,"p":0.182,"f":45},{"d":113,"p":0.182,"f":36},{"d":98,"p":0.182,"f":28},{"d":85.3,"p":0.182,"f":24},{"d":74.2,"p":0.182,"f":20},{"d":64.6,"p":0.182,"f":17},{"d":56.2,"p":0.182,"f":14},{"d":48.9,"p":0.182,"f":12},{"d":42.5,"p":0.182,"f":10},{"d":37,"p":0.182,"f":9},{"d":32.2,"p":0.182,"f":8},{"d":28,"p":0.182,"f":7},{"d":24.3,"p":0.182,"f":6},{"d":21.2,"p":0.182,"f":5},{"d":18.4,"p":0.182,"f":5},{"d":16,"p":0.182,"f":4},{"d":13.9,"p":0.182,"f":3},{"d":12.1,"p":0.182,"f":2},{"d":10.5,"p":0.182,"f":1},
{"d":488,"p":0.146,"f":14},{"d":424,"p":0.146,"f":25},{"d":369,"p":0.146,"f":34},{"d":321,"p":0.146,"f":48},{"d":279,"p":0.146,"f":85},{"d":243,"p":0.146,"f":110},{"d":211,"p":0.146,"f":95},{"d":184,"p":0.146,"f":75},{"d":160,"p":0.146,"f":60},{"d":139,"p":0.146,"f":48},{"d":121,"p":0.146,"f":36},{"d":105,"p":0.146,"f":28},{"d":91.5,"p":0.146,"f":24},{"d":79.6,"p":0.146,"f":20},{"d":69.2,"p":0.146,"f":16},{"d":60.2,"p":0.146,"f":13},{"d":52.4,"p":0.146,"f":11},{"d":45.6,"p":0.146,"f":9},{"d":39.6,"p":0.146,"f":8},{"d":34.5,"p":0.146,"f":7},{"d":30,"p":0.146,"f":6},{"d":26.1,"p":0.146,"f":5},{"d":22.7,"p":0.146,"f":3},{"d":19.7,"p":0.146,"f":1},{"d":17.2,"p":0.146,"f":1},{"d":14.9,"p":0.146,"f":1},{"d":13,"p":0.146,"f":1},{"d":11.3,"p":0.146,"f":1},
{"d":523,"p":0.117,"f":10},{"d":455,"p":0.117,"f":24},{"d":396,"p":0.117,"f":32},{"d":344,"p":0.117,"f":40},{"d":299,"p":0.117,"f":66},{"d":260,"p":0.117,"f":92},{"d":226,"p":0.117,"f":85},{"d":197,"p":0.117,"f":70},{"d":171,"p":0.117,"f":56},{"d":149,"p":0.117,"f":44},{"d":130,"p":0.117,"f":36},{"d":113,"p":0.117,"f":28},{"d":98,"p":0.117,"f":22},{"d":85.3,"p":0.117,"f":18},{"d":74.2,"p":0.117,"f":16},{"d":64.6,"p":0.117,"f":13},{"d":56.2,"p":0.117,"f":10},{"d":48.9,"p":0.117,"f":9},{"d":42.5,"p":0.117,"f":8},{"d":37,"p":0.117,"f":6},{"d":32.2,"p":0.117,"f":6},{"d":28,"p":0.117,"f":5},{"d":24.3,"p":0.117,"f":3},{"d":21.2,"p":0.117,"f":2},{"d":18.4,"p":0.117,"f":1},{"d":16,"p":0.117,"f":1},{"d":13.9,"p":0.117,"f":1},{"d":12.1,"p":0.117,"f":1},{"d":10.5,"p":0.117,"f":1},{"d":8,"p":0.117,"f":1},{"d":3.95,"p":0.117,"f":1},
{"d":488,"p":0.094,"f":8},{"d":424,"p":0.094,"f":20},{"d":369,"p":0.094,"f":28},{"d":321,"p":0.094,"f":36},{"d":279,"p":0.094,"f":52},{"d":243,"p":0.094,"f":68},{"d":211,"p":0.094,"f":70},{"d":184,"p":0.094,"f":56},{"d":160,"p":0.094,"f":44},{"d":139,"p":0.094,"f":34},{"d":121,"p":0.094,"f":28},{"d":105,"p":0.094,"f":22},{"d":91.5,"p":0.094,"f":18},{"d":79.6,"p":0.094,"f":15},{"d":69.2,"p":0.094,"f":12},{"d":60.2,"p":0.094,"f":10},{"d":52.4,"p":0.094,"f":8},{"d":45.6,"p":0.094,"f":7},{"d":39.6,"p":0.094,"f":6},{"d":34.5,"p":0.094,"f":5},{"d":30,"p":0.094,"f":3},{"d":26.1,"p":0.094,"f":3},{"d":22.7,"p":0.094,"f":1},{"d":19.7,"p":0.094,"f":1},{"d":17.2,"p":0.094,"f":2},{"d":14.9,"p":0.094,"f":2},{"d":13,"p":0.094,"f":1},{"d":9.8,"p":0.094,"f":1},
{"d":523,"p":0.075,"f":12},{"d":455,"p":0.075,"f":16},{"d":396,"p":0.075,"f":24},{"d":344,"p":0.075,"f":30},{"d":299,"p":0.075,"f":44},{"d":260,"p":0.075,"f":52},{"d":226,"p":0.075,"f":55},{"d":197,"p":0.075,"f":46},{"d":171,"p":0.075,"f":38},{"d":149,"p":0.075,"f":30},{"d":130,"p":0.075,"f":24},{"d":113,"p":0.075,"f":20},{"d":98,"p":0.075,"f":15},{"d":85.3,"p":0.075,"f":13},{"d":74.2,"p":0.075,"f":10},{"d":64.6,"p":0.075,"f":8},{"d":56.2,"p":0.075,"f":7},{"d":48.9,"p":0.075,"f":6},{"d":42.5,"p":0.075,"f":5},{"d":37,"p":0.075,"f":4},{"d":32.2,"p":0.075,"f":3},{"d":28,"p":0.075,"f":1},{"d":24.3,"p":0.075,"f":2},{"d":21.2,"p":0.075,"f":1},{"d":18.4,"p":0.075,"f":1},{"d":13.9,"p":0.075,"f":1},
{"d":488,"p":0.06,"f":5},{"d":424,"p":0.06,"f":14},{"d":369,"p":0.06,"f":18},{"d":321,"p":0.06,"f":24},{"d":279,"p":0.06,"f":34},{"d":243,"p":0.06,"f":40},{"d":211,"p":0.06,"f":40},{"d":184,"p":0.06,"f":34},{"d":160,"p":0.06,"f":28},{"d":139,"p":0.06,"f":22},{"d":121,"p":0.06,"f":18},{"d":105,"p":0.06,"f":15},{"d":91.5,"p":0.06,"f":12},{"d":79.6,"p":0.06,"f":9},{"d":69.2,"p":0.06,"f":8},{"d":60.2,"p":0.06,"f":6},{"d":52.4,"p":0.06,"f":1},{"d":45.6,"p":0.06,"f":3},{"d":39.6,"p":0.06,"f":3},{"d":34.5,"p":0.06,"f":3},{"d":30,"p":0.06,"f":1},{"d":26.1,"p":0.06,"f":1},{"d":22.7,"p":0.06,"f":1},{"d":19.7,"p":0.06,"f":1},
{"d":523,"p":0.0483,"f":8},{"d":455,"p":0.0483,"f":13},{"d":396,"p":0.0483,"f":16},{"d":344,"p":0.0483,"f":20},{"d":299,"p":0.0483,"f":26},{"d":260,"p":0.0483,"f":30},{"d":226,"p":0.0483,"f":30},{"d":197,"p":0.0483,"f":26},{"d":171,"p":0.0483,"f":22},{"d":149,"p":0.0483,"f":18},{"d":130,"p":0.0483,"f":15},{"d":113,"p":0.0483,"f":12},{"d":98,"p":0.0483,"f":10},{"d":85.3,"p":0.0483,"f":8},{"d":74.2,"p":0.0483,"f":7},{"d":64.6,"p":0.0483,"f":6},{"d":56.2,"p":0.0483,"f":5},{"d":48.9,"p":0.0483,"f":3},{"d":42.5,"p":0.0483,"f":2},{"d":37,"p":0.0483,"f":3},{"d":32.2,"p":0.0483,"f":1},{"d":28,"p":0.0483,"f":1},{"d":24.3,"p":0.0483,"f":2},{"d":21.2,"p":0.0483,"f":1},{"d":18.4,"p":0.0483,"f":1},
{"d":488,"p":0.0387,"f":11},{"d":424,"p":0.0387,"f":12},{"d":369,"p":0.0387,"f":14},{"d":321,"p":0.0387,"f":16},{"d":279,"p":0.0387,"f":22},{"d":243,"p":0.0387,"f":22},{"d":211,"p":0.0387,"f":22},{"d":184,"p":0.0387,"f":18},{"d":160,"p":0.0387,"f":15},{"d":139,"p":0.0387,"f":13},{"d":121,"p":0.0387,"f":10},{"d":105,"p":0.0387,"f":8},{"d":91.5,"p":0.0387,"f":7},{"d":79.6,"p":0.0387,"f":5},{"d":69.2,"p":0.0387,"f":5},{"d":60.2,"p":0.0387,"f":4},{"d":52.4,"p":0.0387,"f":3},{"d":45.6,"p":0.0387,"f":3},{"d":39.6,"p":0.0387,"f":2},{"d":34.5,"p":0.0387,"f":1},{"d":22.7,"p":0.0387,"f":1},
{"d":523,"p":0.031,"f":6},{"d":455,"p":0.031,"f":10},{"d":396,"p":0.031,"f":12},{"d":344,"p":0.031,"f":14},{"d":299,"p":0.031,"f":16},{"d":260,"p":0.031,"f":16},{"d":226,"p":0.031,"f":16},{"d":197,"p":0.031,"f":14},{"d":171,"p":0.031,"f":12},{"d":149,"p":0.031,"f":11},{"d":130,"p":0.031,"f":9},{"d":113,"p":0.031,"f":7},{"d":98,"p":0.031,"f":6},{"d":85.3,"p":0.031,"f":5},{"d":74.2,"p":0.031,"f":4},{"d":64.6,"p":0.031,"f":5},{"d":56.2,"p":0.031,"f":2},{"d":48.9,"p":0.031,"f":3},{"d":42.5,"p":0.031,"f":1},{"d":37,"p":0.031,"f":1},{"d":32.2,"p":0.031,"f":1},
{"d":488,"p":0.0249,"f":8},{"d":424,"p":0.0249,"f":9},{"d":369,"p":0.0249,"f":10},{"d":321,"p":0.0249,"f":12},{"d":279,"p":0.0249,"f":13},{"d":243,"p":0.0249,"f":13},{"d":211,"p":0.0249,"f":13},{"d":184,"p":0.0249,"f":12},{"d":160,"p":0.0249,"f":10},{"d":139,"p":0.0249,"f":9},{"d":121,"p":0.0249,"f":7},{"d":105,"p":0.0249,"f":6},{"d":91.5,"p":0.0249,"f":5},{"d":79.6,"p":0.0249,"f":4},{"d":69.2,"p":0.0249,"f":3},{"d":60.2,"p":0.0249,"f":3},{"d":52.4,"p":0.0249,"f":1},{"d":39.6,"p":0.0249,"f":1},{"d":19.7,"p":0.0249,"f":1},{"d":22.7,"p":0.0249,"f":1},{"d":26.1,"p":0.0249,"f":1},
{"d":523,"p":0.02,"f":4},{"d":455,"p":0.02,"f":7},{"d":396,"p":0.02,"f":8},{"d":344,"p":0.02,"f":9},{"d":299,"p":0.02,"f":10},{"d":260,"p":0.02,"f":11},{"d":226,"p":0.02,"f":11},{"d":197,"p":0.02,"f":10},{"d":171,"p":0.02,"f":9},{"d":149,"p":0.02,"f":8},{"d":130,"p":0.02,"f":7},{"d":113,"p":0.02,"f":6},{"d":98,"p":0.02,"f":5},{"d":85.3,"p":0.02,"f":5},{"d":74.2,"p":0.02,"f":3},{"d":64.6,"p":0.02,"f":2},{"d":56.2,"p":0.02,"f":1},{"d":48.9,"p":0.02,"f":1},
{"d":488,"p":0.016,"f":6},{"d":424,"p":0.016,"f":7},{"d":369,"p":0.016,"f":8},{"d":321,"p":0.016,"f":7},{"d":279,"p":0.016,"f":8},{"d":243,"p":0.016,"f":9},{"d":211,"p":0.016,"f":9},{"d":184,"p":0.016,"f":8},{"d":160,"p":0.016,"f":8},{"d":139,"p":0.016,"f":7},{"d":121,"p":0.016,"f":6},{"d":105,"p":0.016,"f":4},{"d":91.5,"p":0.016,"f":4},{"d":79.6,"p":0.016,"f":1},{"d":69.2,"p":0.016,"f":2},{"d":60.2,"p":0.016,"f":1},{"d":52.4,"p":0.016,"f":1},{"d":45.6,"p":0.016,"f":1},
{"d":523,"p":0.0128,"f":2},{"d":455,"p":0.0128,"f":5},{"d":396,"p":0.0128,"f":4},{"d":344,"p":0.0128,"f":5},{"d":299,"p":0.0128,"f":6},{"d":260,"p":0.0128,"f":7},{"d":226,"p":0.0128,"f":7},{"d":197,"p":0.0128,"f":7},{"d":171,"p":0.0128,"f":6},{"d":149,"p":0.0128,"f":6},{"d":130,"p":0.0128,"f":5},{"d":113,"p":0.0128,"f":3},{"d":98,"p":0.0128,"f":2},{"d":85.3,"p":0.0128,"f":1},{"d":74.2,"p":0.0128,"f":4},{"d":64.6,"p":0.0128,"f":1},{"d":56.2,"p":0.0128,"f":1},{"d":42.5,"p":0.0128,"f":1},{"d":32.2,"p":0.0128,"f":1},
{"d":488,"p":0.0103,"f":4},{"d":424,"p":0.0103,"f":4},{"d":369,"p":0.0103,"f":3},{"d":321,"p":0.0103,"f":2},{"d":279,"p":0.0103,"f":4},{"d":243,"p":0.0103,"f":5},{"d":211,"p":0.0103,"f":5},{"d":184,"p":0.0103,"f":5},{"d":160,"p":0.0103,"f":5},{"d":139,"p":0.0103,"f":3},{"d":121,"p":0.0103,"f":2},{"d":105,"p":0.0103,"f":1},{"d":91.5,"p":0.0103,"f":2},{"d":60.2,"p":0.0103,"f":2},{"d":52.4,"p":0.0103,"f":2},
{"d":523,"p":0.0082,"f":2},{"d":455,"p":0.0082,"f":4},{"d":396,"p":0.0082,"f":2},{"d":344,"p":0.0082,"f":2},{"d":299,"p":0.0082,"f":3},{"d":260,"p":0.0082,"f":4},{"d":226,"p":0.0082,"f":4},{"d":197,"p":0.0082,"f":4},{"d":171,"p":0.0082,"f":3},{"d":149,"p":0.0082,"f":2},{"d":130,"p":0.0082,"f":2},{"d":113,"p":0.0082,"f":2},{"d":98,"p":0.0082,"f":1},{"d":64.6,"p":0.0082,"f":1},{"d":37,"p":0.0082,"f":1},
{"d":488,"p":0.0066,"f":3},{"d":424,"p":0.0066,"f":4},{"d":369,"p":0.0066,"f":3},{"d":321,"p":0.0066,"f":2},{"d":279,"p":0.0066,"f":3},{"d":243,"p":0.0066,"f":3},{"d":211,"p":0.0066,"f":3},{"d":184,"p":0.0066,"f":4},{"d":160,"p":0.0066,"f":3},{"d":139,"p":0.0066,"f":2},{"d":105,"p":0.0066,"f":1},
{"d":523,"p":0.0053,"f":1},{"d":455,"p":0.0053,"f":1},{"d":396,"p":0.0053,"f":1},{"d":344,"p":0.0053,"f":1},{"d":260,"p":0.0053,"f":1},{"d":226,"p":0.0053,"f":3},{"d":197,"p":0.0053,"f":3},{"d":171,"p":0.0053,"f":1},{"d":149,"p":0.0053,"f":1},{"d":130,"p":0.0053,"f":1},
{"d":488,"p":0.00425,"f":1},{"d":424,"p":0.00425,"f":3},{"d":369,"p":0.00425,"f":2},{"d":279,"p":0.00425,"f":1},{"d":211,"p":0.00425,"f":1},{"d":184,"p":0.00425,"f":2},{"d":160,"p":0.00425,"f":1},{"d":139,"p":0.00425,"f":1},
{"d":523,"p":0.0034,"f":1},{"d":455,"p":0.0034,"f":2},{"d":260,"p":0.0034,"f":1},{"d":197,"p":0.0034,"f":1},{"d":171,"p":0.0034,"f":1},{"d":149,"p":0.0034,"f":1},{"d":130,"p":0.0034,"f":1},{"d":113,"p":0.0034,"f":1},{"d":98,"p":0.0034,"f":1},
{"d":455,"p":0.0022,"f":1},{"d":299,"p":0.0022,"f":1},{"d":149,"p":0.0022,"f":1}
   ]},
   "mark":{"type":"point","filled":true,"opacity":1,"strokeWidth":0,"shape":"M0,-0.92L1,-0.46L1,0.46L0,0.92L-1,0.46L-1,-0.46Z","size":52},
   "encoding":{
    "x":{"field":"d","type":"quantitative","scale":{"type":"log","domain":[0.4,764],"nice":false},"axis":{"title":"Distance (km)","titleFontSize":8.4,"titleY":20,"labelFontSize":8.5,"labelPadding":2,"grid":true,"values":[0.5,0.6,0.7,0.8,0.9,1,2,3,4,5,6,7,8,9,10,20,30,40,50,60,70,80,90,100,200,300,400,500,600,700],"labelExpr":"datum.value==1?'10⁰':datum.value==10?'10¹':datum.value==100?'10²':''","tickSize":{"condition":{"test":"datum.value==1||datum.value==10||datum.value==100","value":4},"value":2}}},
    "y":{"field":"p","type":"quantitative","scale":{"type":"log","domain":[0.0011,1259],"nice":false},"axis":{"title":"PGA (gal)","titleFontSize":8.4,"titleX":-34,"labelFontSize":8.5,"labelPadding":2,"grid":true,"values":[0.002,0.003,0.004,0.005,0.006,0.007,0.008,0.009,0.01,0.02,0.03,0.04,0.05,0.06,0.07,0.08,0.09,0.1,0.2,0.3,0.4,0.5,0.6,0.7,0.8,0.9,1,2,3,4,5,6,7,8,9,10,20,30,40,50,60,70,80,90,100,200,300,400,500,600,700,800,900,1000],"labelExpr":"datum.value==0.01?'10⁻²':datum.value==0.1?'10⁻¹':datum.value==1?'10⁰':datum.value==10?'10¹':datum.value==100?'10²':datum.value==1000?'10³':''","tickSize":{"condition":{"test":"datum.value==0.01||datum.value==0.1||datum.value==1||datum.value==10||datum.value==100||datum.value==1000","value":4},"value":2}}},
    "color":{"field":"f","type":"quantitative","legend":null,"scale":{"type":"log","domain":[1,1.834,3.364,6.17,11.31,20.75,38.05,69.8,128],"range":["#8000ff","#4062fa","#00b4ec","#40ecd4","#80ffb4","#bfec8e","#ffb462","#ff6232","#ff0000"]}}}},
  {"width":17,"height":1,"data":{"values":[]},"mark":"point","encoding":{}},
  {"width":12,"height":286,
   "layer":[
    {"data":{"values":[{"lo":1,"hi":1.19},{"lo":1.19,"hi":1.41},{"lo":1.41,"hi":1.68},{"lo":1.68,"hi":2},{"lo":2,"hi":2.38},{"lo":2.38,"hi":2.83},{"lo":2.83,"hi":3.36},{"lo":3.36,"hi":4},{"lo":4,"hi":4.76},{"lo":4.76,"hi":5.66},{"lo":5.66,"hi":6.73},{"lo":6.73,"hi":8},{"lo":8,"hi":9.51},{"lo":9.51,"hi":11.3},{"lo":11.3,"hi":13.5},{"lo":13.5,"hi":16},{"lo":16,"hi":19},{"lo":19,"hi":22.6},{"lo":22.6,"hi":26.9},{"lo":26.9,"hi":32},{"lo":32,"hi":38.1},{"lo":38.1,"hi":45.3},{"lo":45.3,"hi":53.8},{"lo":53.8,"hi":64},{"lo":64,"hi":76.1},{"lo":76.1,"hi":90.5},{"lo":90.5,"hi":108},{"lo":108,"hi":128}]},
     "mark":{"type":"rect"},
     "encoding":{
      "y":{"field":"lo","type":"quantitative","scale":{"type":"log","domain":[1,128],"nice":false,"range":[286,33]},"axis":{"orient":"right","title":"Frequency","titleFontSize":8.4,"titleAngle":270,"titleX":26,"titleY":159.5,"labelFontSize":8.5,"labelPadding":2,"values":[1,2,3,4,5,6,7,8,9,10,20,30,40,50,60,70,80,90,100],"labelExpr":"datum.value==1?'10⁰':datum.value==10?'10¹':datum.value==100?'10²':''","tickSize":{"condition":{"test":"datum.value==1||datum.value==10||datum.value==100","value":4},"value":2}}},
      "y2":{"field":"hi"},
      "color":{"field":"lo","type":"quantitative","legend":null,"scale":{"type":"log","domain":[1,1.834,3.364,6.17,11.31,20.75,38.05,69.8,128],"range":["#8000ff","#4062fa","#00b4ec","#40ecd4","#80ffb4","#bfec8e","#ffb462","#ff6232","#ff0000"]}}}},
    {"data":{"values":[{"lo":1,"hi":128}]},"mark":{"type":"rect","fill":"transparent","stroke":"#444","strokeWidth":1},"encoding":{"y":{"field":"lo","type":"quantitative"},"y2":{"field":"hi"}}}
   ]}
 ]},
 {"width":384,"height":40,"data":{"values":[{"caption":"Figure 5 Heatmap PGA (gal) vs Distance (km)."}]},"mark":{"type":"text","font":"Liberation Serif","fontSize":22.8,"color":"#111","dy":1.5},"encoding":{"text":{"field":"caption"}}}
]},
{"spacing":0,"vconcat":[
 {"bounds":"flush","spacing":0,"columns":2,"concat":[
  {"width":1,"height":10,"data":{"values":[]},"mark":"point","encoding":{}},
  {"width":1,"height":10,"data":{"values":[]},"mark":"point","encoding":{}},
  {"width":1,"height":1,"data":{"values":[]},"mark":"point","encoding":{}},
  {"width":418,"height":248,"view":{"stroke":"#555","strokeWidth":1.2},
   "title":{"text":"Earthquake Density per Vs30 Class","fontSize":12.6,"offset":5},
   "data":{"values":[{"c":"1-100","v":0},{"c":"101-200","v":0.012},{"c":"201-300","v":0.253},{"c":"301-400","v":0.263},{"c":"401-500","v":0.198},{"c":"501-600","v":0.151},{"c":"601-700","v":0.081},{"c":"701-800","v":0.027},{"c":"801-900","v":0.01},{"c":"901-1000","v":0.004},{"c":"1001-1100","v":0}]},
   "mark":{"type":"bar","color":"#1f77b4"},
   "encoding":{
    "x":{"field":"c","type":"nominal","sort":null,"scale":{"paddingInner":0.2,"paddingOuter":0.5375},"axis":{"title":"Vs30 Class","titleFontSize":10.6,"titleY":61,"labelAngle":-45,"labelAlign":"center","labelBaseline":"middle","labelFontSize":10,"labelPadding":{"expr":"3.5+2.5*length(datum.label)"},"tickSize":4}},
    "y":{"field":"v","type":"quantitative","scale":{"domain":[0,0.2768],"nice":false},"axis":{"title":"Density","titleFontSize":10.6,"titleX":-39,"values":[0,0.05,0.1,0.15,0.2,0.25],"format":".2f","labelFontSize":10.5,"tickSize":4,"grid":true}}}}
 ]},
 {"width":376,"height":130,"data":{"values":[{"caption":"Figure 4 The histogram Density of the Vs30 (m/s)."}]},"mark":{"type":"text","font":"Liberation Serif","fontSize":22.8,"color":"#111","dy":-41.5},"encoding":{"text":{"field":"caption"}}},
 {"width":414,"height":222,"view":{"stroke":"#555","strokeWidth":1.2},
  "title":{"text":"Earthquake Density per Depth Class","fontSize":12.3,"offset":3},
  "data":{"values":[{"c":"1-50","v":0.802},{"c":"51-100","v":0.12},{"c":"101-150","v":0.048},{"c":"151-200","v":0.011},{"c":"201-250","v":0.006},{"c":"251-300","v":0.001},{"c":"301-350","v":0.001},{"c":"351-400","v":0.001},{"c":"401-450","v":0.001},{"c":"451-500","v":0.001},{"c":"501-550","v":0.001},{"c":"551-600","v":0.001},{"c":"601-650","v":0.003},{"c":"651-700","v":0.001}]},
  "mark":{"type":"bar","color":"#1f77b4"},
  "encoding":{
   "x":{"field":"c","type":"nominal","sort":null,"scale":{"paddingInner":0.2,"paddingOuter":0.71},"axis":{"title":"Depth Class (km)","titleFontSize":9.8,"titleY":46,"labelAngle":-45,"labelAlign":"center","labelBaseline":"middle","labelFontSize":9.5,"labelPadding":{"expr":"3.5+2.5*length(datum.label)"},"tickSize":4}},
   "y":{"field":"v","type":"quantitative","scale":{"domain":[0,0.8417],"nice":false},"axis":{"title":"Density","titleFontSize":9.8,"titleX":-32,"values":[0,0.1,0.2,0.3,0.4,0.5,0.6,0.7,0.8],"format":".1f","labelFontSize":9.2,"tickSize":4,"grid":true}}}},
 {"width":376,"height":40,"data":{"values":[{"caption":"Figure 6 Earthquake density per depth class."}]},"mark":{"type":"text","font":"Liberation Serif","fontSize":22.8,"color":"#111","dy":4},"encoding":{"text":{"field":"caption"}}}
]}
]}
